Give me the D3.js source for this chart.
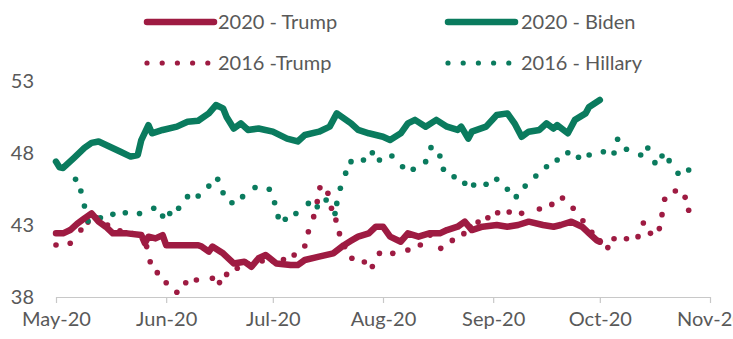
<!DOCTYPE html>
<html><head><meta charset="utf-8">
<script src="https://cdn.jsdelivr.net/npm/d3@7"></script>
<style>html,body{margin:0;padding:0;background:#fff;overflow:hidden}</style>
</head><body>
<svg id="chart" width="733" height="339"></svg>
<script>
const monthTicks = ["2020-05-01","2020-06-01","2020-07-01","2020-08-01","2020-09-01","2020-10-01","2020-11-01"];
const yTicks = [38, 43, 48, 53];
const legendLabels = ["2020 - Trump", "2020 - Biden", "2016 -Trump", "2016 - Hillary"];

const trump2020 = [["2020-05-01",42.42],["2020-05-03",42.42],["2020-05-05",42.65],["2020-05-07",43.1],["2020-05-09",43.46],["2020-05-11",43.8],["2020-05-13",43.23],["2020-05-15",42.88],["2020-05-17",42.42],["2020-05-21",42.42],["2020-05-25",42.3],["2020-05-26",41.73],["2020-05-27",42.19],["2020-05-29",42.07],["2020-05-31",42.3],["2020-06-01",41.6],["2020-06-06",41.6],["2020-06-10",41.6],["2020-06-11",41.5],["2020-06-13",41.15],["2020-06-14",41.5],["2020-06-17",41.03],["2020-06-20",40.33],["2020-06-23",40.45],["2020-06-25",40.1],["2020-06-27",40.69],["2020-06-29",40.92],["2020-07-02",40.33],["2020-07-06",40.22],["2020-07-08",40.22],["2020-07-10",40.57],["2020-07-14",40.8],["2020-07-18",41.03],["2020-07-21",41.6],["2020-07-23",41.9],["2020-07-25",42.19],["2020-07-28",42.42],["2020-07-30",42.88],["2020-08-01",42.88],["2020-08-03",42.19],["2020-08-06",41.84],["2020-08-08",42.42],["2020-08-11",42.19],["2020-08-14",42.42],["2020-08-17",42.42],["2020-08-19",42.65],["2020-08-22",42.88],["2020-08-24",43.23],["2020-08-26",42.65],["2020-08-29",42.88],["2020-09-02",43.0],["2020-09-05",42.88],["2020-09-08",43.0],["2020-09-11",43.23],["2020-09-15",43.0],["2020-09-18",42.88],["2020-09-20",43.0],["2020-09-23",43.23],["2020-09-26",42.88],["2020-09-28",42.42],["2020-09-30",41.96],["2020-10-01",41.84]];

const biden2020 = [["2020-05-01",47.4],["2020-05-02",47.0],["2020-05-03",46.96],["2020-05-06",47.65],["2020-05-09",48.35],["2020-05-11",48.7],["2020-05-13",48.8],["2020-05-16",48.45],["2020-05-19",48.1],["2020-05-22",47.75],["2020-05-24",47.86],["2020-05-25",48.9],["2020-05-27",49.94],["2020-05-28",49.37],["2020-05-31",49.6],["2020-06-04",49.83],["2020-06-07",50.17],["2020-06-10",50.24],["2020-06-13",50.75],["2020-06-15",51.33],["2020-06-17",51.1],["2020-06-18",50.5],["2020-06-20",49.7],["2020-06-22",50.06],["2020-06-24",49.6],["2020-06-27",49.7],["2020-07-01",49.48],["2020-07-05",49.0],["2020-07-08",48.8],["2020-07-10",49.25],["2020-07-14",49.48],["2020-07-17",49.83],["2020-07-19",50.75],["2020-07-21",50.4],["2020-07-23",50.06],["2020-07-25",49.6],["2020-07-28",49.37],["2020-08-01",49.13],["2020-08-03",48.9],["2020-08-06",49.37],["2020-08-08",50.06],["2020-08-10",50.3],["2020-08-13",49.83],["2020-08-16",50.3],["2020-08-19",49.83],["2020-08-22",49.6],["2020-08-23",49.83],["2020-08-25",49.0],["2020-08-26",49.48],["2020-08-30",49.83],["2020-09-02",50.64],["2020-09-05",50.75],["2020-09-07",50.06],["2020-09-09",49.13],["2020-09-11",49.48],["2020-09-14",49.6],["2020-09-16",50.06],["2020-09-18",49.7],["2020-09-19",49.94],["2020-09-22",49.37],["2020-09-24",50.3],["2020-09-27",50.75],["2020-09-28",51.2],["2020-10-01",51.68]];

const trump2016 = [["2020-05-01",41.61],["2020-05-05",41.73],["2020-05-08",42.65],["2020-05-10",43.2],["2020-05-12T12:00",43.5],["2020-05-15T12:00",43.0],["2020-05-19",42.6],["2020-05-22T12:00",42.4],["2020-05-26T12:00",41.5],["2020-05-27T12:00",40.45],["2020-05-29T12:00",39.69],["2020-06-01",38.99],["2020-06-04",38.33],["2020-06-06T12:00",38.99],["2020-06-09T12:00",39.18],["2020-06-14",39.3],["2020-06-16",39.0],["2020-06-18",39.57],["2020-06-21",40.0],["2020-06-24",40.3],["2020-06-28",40.5],["2020-07-01",40.5],["2020-07-04",40.6],["2020-07-07",40.92],["2020-07-10",41.54],["2020-07-11",42.53],["2020-07-12T12:00",43.58],["2020-07-13T12:00",44.62],["2020-07-14T06:00",45.58],["2020-07-16T12:00",45.2],["2020-07-17T12:00",44.16],["2020-07-18T18:00",43.35],["2020-07-19T18:00",42.4],["2020-07-21T06:00",41.5],["2020-07-23T06:00",40.69],["2020-07-26T18:00",40.43],["2020-07-29",40.12],["2020-07-31",41.03],["2020-08-03T18:00",41.03],["2020-08-08",41.26],["2020-08-11T12:00",41.61],["2020-08-14T06:00",42.3],["2020-08-17T06:00",41.38],["2020-08-20T12:00",41.93],["2020-08-23T18:00",42.4],["2020-08-25T12:00",42.88],["2020-08-27T18:00",43.2],["2020-08-30T12:00",43.5],["2020-09-02T06:00",43.85],["2020-09-05T12:00",43.9],["2020-09-09",43.81],["2020-09-14",44.11],["2020-09-17T12:00",44.43],["2020-09-20T12:00",44.87],["2020-09-23T12:00",44.16],["2020-09-26T06:00",43.3],["2020-09-28T18:00",42.5],["2020-10-01",41.9],["2020-10-03T06:00",41.43],["2020-10-05",42.05],["2020-10-08T12:00",42.05],["2020-10-11T18:00",42.19],["2020-10-13T06:00",43.14],["2020-10-15T06:00",42.42],["2020-10-17T18:00",42.75],["2020-10-18T12:00",43.72],["2020-10-19T06:00",44.79],["2020-10-22T06:00",45.36],["2020-10-25",44.92],["2020-10-26",44.02]];

const hillary2016 = [["2020-05-06T12:00",46.17],["2020-05-08",45.36],["2020-05-09",44.32],["2020-05-10",43.28],["2020-05-13T12:00",43.5],["2020-05-17",43.74],["2020-05-20T12:00",43.85],["2020-05-24T12:00",43.8],["2020-05-28T12:00",44.16],["2020-05-31",43.63],["2020-06-02",43.8],["2020-06-04T12:00",44.16],["2020-06-07",44.97],["2020-06-10",45.01],["2020-06-13",45.7],["2020-06-15T12:00",46.17],["2020-06-17",45.24],["2020-06-19T12:00",44.55],["2020-06-22T12:00",44.97],["2020-06-26",45.6],["2020-06-30",45.48],["2020-07-01T12:00",44.55],["2020-07-02T12:00",43.58],["2020-07-04T12:00",43.4],["2020-07-07T12:00",43.8],["2020-07-11",44.5],["2020-07-13T12:00",44.27],["2020-07-16",44.74],["2020-07-18T12:00",43.8],["2020-07-19",44.5],["2020-07-20",45.55],["2020-07-21T12:00",46.6],["2020-07-23",47.4],["2020-07-26T12:00",47.51],["2020-07-29",48.02],["2020-07-31",47.51],["2020-08-03T12:00",47.79],["2020-08-06T12:00",47.05],["2020-08-09T12:00",46.87],["2020-08-13",47.4],["2020-08-14T12:00",48.37],["2020-08-17",47.79],["2020-08-18",46.87],["2020-08-21",46.35],["2020-08-24",45.9],["2020-08-26T12:00",45.78],["2020-08-30",45.83],["2020-09-02",46.17],["2020-09-05",45.48],["2020-09-07T12:00",44.97],["2020-09-10",45.7],["2020-09-13",46.4],["2020-09-16",47.05],["2020-09-19",47.51],["2020-09-22",48.02],["2020-09-25",47.7],["2020-09-28",47.86],["2020-10-02",48.09],["2020-10-05",48.0],["2020-10-06",48.95],["2020-10-08T12:00",48.26],["2020-10-12T12:00",47.86],["2020-10-14T12:00",48.35],["2020-10-16T12:00",47.33],["2020-10-18T12:00",47.79],["2020-10-20T12:00",47.47],["2020-10-23",46.59],["2020-10-26",46.82]];

const RED = "#9E1B42", GREEN = "#0A7B5E", TEXT = "#595959";
const FONT = "Lato, 'Open Sans', sans-serif";
const pDay = d3.utcParse("%Y-%m-%d"), pHour = d3.utcParse("%Y-%m-%dT%H:%M");
const parse = s => s.length > 10 ? pHour(s) : pDay(s);
const toPts = arr => arr.map(([d, v]) => ({date: parse(d), value: v}));

const svg = d3.select("#chart");
const x = d3.scaleUtc().domain([parse(monthTicks[0]), parse(monthTicks[monthTicks.length - 1])]).range([56, 710]);
const y = d3.scaleLinear().domain([38, 53]).range([297, 81]);

// x axis
const xAxis = svg.append("g").attr("transform", "translate(0,297)")
  .call(d3.axisBottom(x).tickValues(monthTicks.map(parse)).tickFormat(d3.utcFormat("%b-%y")).tickSize(6).tickSizeOuter(0));
xAxis.select(".domain").attr("stroke", "#c8c8c8").attr("stroke-width", 1.2);
xAxis.selectAll(".tick line").attr("stroke", "#c8c8c8").attr("stroke-width", 1.2);
xAxis.selectAll(".tick text").attr("y", 29).attr("dy", 0).attr("fill", TEXT)
  .style("font-family", FONT).style("font-size", "20px");

// y axis labels
const yAxis = svg.append("g").attr("transform", "translate(34,0)")
  .call(d3.axisLeft(y).tickValues(yTicks).tickSize(0).tickPadding(0));
yAxis.select(".domain").remove();
yAxis.selectAll(".tick text").attr("fill", TEXT).attr("dy", "0.34em")
  .style("font-family", FONT).style("font-size", "20px");

const line = d3.line().x(d => x(d.date)).y(d => y(d.value));

// 2016 dotted series
svg.append("g").selectAll("circle").data(toPts(trump2016)).join("circle")
  .attr("cx", d => x(d.date)).attr("cy", d => y(d.value)).attr("r", 2.8).attr("fill", RED);
svg.append("g").selectAll("circle").data(toPts(hillary2016)).join("circle")
  .attr("cx", d => x(d.date)).attr("cy", d => y(d.value)).attr("r", 2.8).attr("fill", GREEN);

// 2020 solid series
[[trump2020, RED], [biden2020, GREEN]].forEach(([s, c]) => {
  svg.append("path").datum(toPts(s)).attr("d", line).attr("fill", "none")
    .attr("stroke", c).attr("stroke-width", 6.5).attr("stroke-linejoin", "round").attr("stroke-linecap", "round");
});

// legend
const legendPos = [[147, 22], [448, 22], [147, 63], [448, 63]];
const legendColors = [RED, GREEN, RED, GREEN];
legendLabels.forEach((lab, i) => {
  const [lx, ly] = legendPos[i];
  const g = svg.append("g");
  if (i < 2) {
    g.append("line").attr("x1", lx).attr("x2", lx + 67).attr("y1", ly).attr("y2", ly)
      .attr("stroke", legendColors[i]).attr("stroke-width", 6.5).attr("stroke-linecap", "round");
  } else {
    d3.range(5).forEach(k => g.append("circle").attr("cx", lx + k * 15.2).attr("cy", ly).attr("r", 2.6).attr("fill", legendColors[i]));
  }
  g.append("text").attr("x", lx + (i % 2 ? 73 : 71)).attr("y", ly + 7).attr("fill", TEXT)
    .style("font-family", FONT).style("font-size", "20px").text(lab);
});
</script>
</body></html>
